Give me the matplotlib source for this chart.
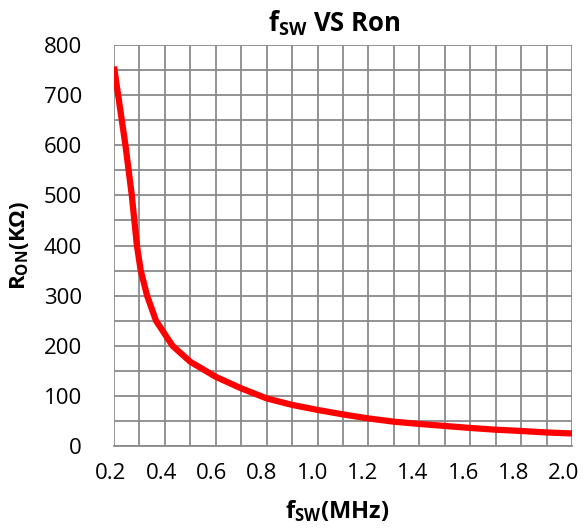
import matplotlib
matplotlib.use('Agg')
import matplotlib.pyplot as plt
from matplotlib.ticker import MultipleLocator
from matplotlib.transforms import ScaledTranslation

# values
fsw_mhz = [0.2, 0.245, 0.27, 0.29, 0.305, 0.33, 0.365, 0.43, 0.5,
           0.6, 0.7, 0.8, 0.9, 1.0, 1.1, 1.2, 1.3, 1.4, 1.5, 1.6, 1.7, 1.8, 1.9, 2.0]
ron_kohm = [757, 600, 500, 400, 350, 300, 250, 200, 168,
            138, 115, 95, 82, 72, 63, 55, 48.5, 44, 40, 36, 32.5, 30, 27, 25]

x_ticks = [0.2, 0.4, 0.6, 0.8, 1.0, 1.2, 1.4, 1.6, 1.8, 2.0]
y_ticks = [0, 100, 200, 300, 400, 500, 600, 700, 800]

plt.rcParams['font.family'] = ['Open Sans', 'DejaVu Sans']
plt.rcParams['mathtext.fontset'] = 'custom'
plt.rcParams['mathtext.rm'] = 'Open Sans'
plt.rcParams['mathtext.bf'] = 'Open Sans:bold'

W, H = 584, 528
fig = plt.figure(figsize=(W / 100, H / 100), dpi=100)
ax = fig.add_axes([114 / W, 82 / H, 458 / W, 401 / H])

ax.plot(fsw_mhz, ron_kohm, color='#ff0000', linewidth=4.5,
        solid_joinstyle='round', solid_capstyle='butt', zorder=3)

ax.set_xlim(0.2, 2.0)
ax.set_ylim(0, 800)
ax.set_xticks(x_ticks)
ax.set_xticklabels([f"{v:.1f}" for v in x_ticks])
ax.set_yticks(y_ticks)
ax.xaxis.set_minor_locator(MultipleLocator(0.1))
ax.yaxis.set_minor_locator(MultipleLocator(50))

grid_col = '#8a8a8a'
ax.grid(True, which='both', color=grid_col, linewidth=1.3)
ax.set_axisbelow(True)
for s in ax.spines.values():
    s.set_visible(False)
ax.spines['bottom'].set_visible(True)
ax.spines['bottom'].set_color(grid_col)
ax.spines['bottom'].set_linewidth(1.3)

ax.tick_params(which='both', length=0)
ax.tick_params(axis='y', labelsize=16, pad=23)
ax.tick_params(axis='x', labelsize=16, pad=12)

# Excel packs the category labels a little tighter than the grid
for i, lab in enumerate(ax.get_xticklabels()):
    dx = -(3 + 5 * i / 9) / 100
    lab.set_transform(lab.get_transform() + ScaledTranslation(dx, 0, fig.dpi_scale_trans))

fig.text(334 / W, 1 - 31 / H, r'$\mathbf{f_{SW}}$ VS Ron', ha='center', va='baseline',
         fontsize=18.5, fontweight='bold')
fig.text(337 / W, 1 - 518 / H, r'$\mathbf{f_{SW}}$(MHz)', ha='center', va='baseline',
         fontsize=17, fontweight='bold')
fig.text(20 / W, 1 - 246 / H, r'$\mathbf{R_{ON}}$(KΩ)', ha='center', va='center',
         rotation=90, fontsize=16, fontweight='bold')

fig.savefig('out.png', dpi=100)
